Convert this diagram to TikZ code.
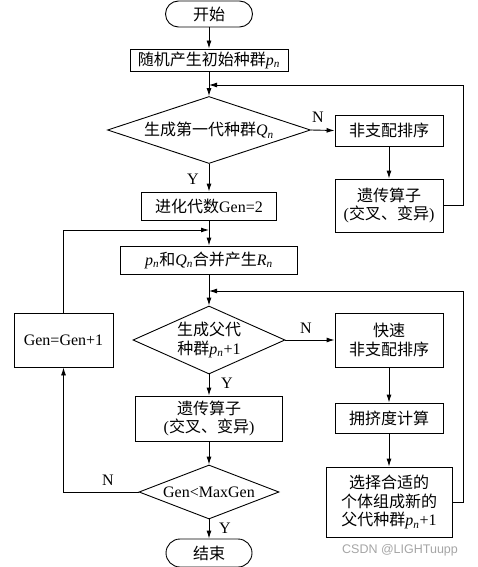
\documentclass[tikz,border=0pt]{standalone}
\usepackage{fontspec}
\setmainfont{Liberation Serif}
\newfontfamily\cjk{Noto Sans CJK SC}
\newfontfamily\wmfont{Liberation Sans}
\usetikzlibrary{shapes.geometric,arrows.meta}
\newcommand\sbn[1]{{\itshape #1}\textsubscript{\itshape n}}
\definecolor{wmgray}{RGB}{165,165,165}
\tikzset{
  base/.style={draw, line width=0.9pt, inner sep=0pt, align=center,
    font=\fontsize{16}{18.5}\selectfont},
  box/.style={base, rectangle},
  term/.style={base, rectangle, rounded corners=13pt},
  dec/.style={base, diamond},
  conn/.style={line width=0.9pt, -{Latex[length=8pt,width=5pt]}},
  plain/.style={line width=0.9pt},
  yn/.style={font=\fontsize{16}{18}\selectfont, inner sep=0pt}
}
\begin{document}
\begin{tikzpicture}[x=1pt,y=-1pt]
\useasboundingbox (0,0) rectangle (478,567);
% main column
\node[term, minimum width=87, minimum height=26] (start) at (209,14) {{\cjk 开始}};
\node[box, minimum width=158, minimum height=22] (init) at (209,60) {{\cjk 随机产生初始种群}\sbn{p}};
\node[dec, minimum width=203, minimum height=67,
  label={[yn]center:{\cjk 生成第一代种群}\sbn{Q}}] (d1) at (209,130) {};
\node[box, minimum width=135, minimum height=28] (genset) at (209,206) {{\cjk 进化代数}Gen=2};
\node[box, minimum width=177, minimum height=28] (merge) at (209,260) {\sbn{p}{\cjk 和}\sbn{Q}{\cjk 合并产生}\sbn{R}};
\node[dec, minimum width=152, minimum height=68,
  label={[yn, align=center, font=\fontsize{16}{18.5}\selectfont]center:{\cjk 生成父代}\\{\cjk 种群}\sbn{p}+1}] (d2) at (209,340) {};
\node[box, minimum width=147, minimum height=45] (gen2) at (209,418.5) {{\cjk 遗传算子}\\({\cjk 交叉、变异})};
\node[dec, minimum width=140, minimum height=54,
  label={[yn]center:Gen<MaxGen}] (d3) at (209,492) {};
\node[term, minimum width=86, minimum height=28, rounded corners=14pt] (stop) at (209,553) {{\cjk 结束}};
% left
\node[box, minimum width=99, minimum height=54] (inc) at (63.5,340) {Gen=Gen+1};
% right column
\node[box, minimum width=108, minimum height=31] (sort1) at (389,130.5) {{\cjk 非支配排序}};
\node[box, minimum width=108, minimum height=53] (gen1) at (389,205.5) {{\cjk 遗传算子}\\({\cjk 交叉、变异})};
\node[box, minimum width=108, minimum height=54] (fast) at (389,340) {{\cjk 快速}\\{\cjk 非支配排序}};
\node[box, minimum width=108, minimum height=30] (crowd) at (389,418) {{\cjk 拥挤度计算}};
\node[box, minimum width=126, minimum height=70] (sel) at (389,502) {{\cjk 选择合适的}\\{\cjk 个体组成新的}\\{\cjk 父代种群}\sbn{p}+1};
% coordinates
\coordinate (j1) at (209,85);
\coordinate (r1) at (463,205.5);
\coordinate (r1t) at (463,85);
\coordinate (j2) at (209,230);
\coordinate (l2) at (63.5,230);
\coordinate (j3) at (209,291);
\coordinate (r3) at (463,502);
\coordinate (r3t) at (463,291);
\coordinate (l3) at (63.5,492);
% connectors
\draw[conn] (start) -- (init);
\draw[conn] (init) -- (d1);
\draw[conn] (d1.east) -- (sort1.west);
\draw[conn] (sort1) -- (gen1);
\draw[conn] (gen1.east) -- (r1) -- (r1t) -- (j1);
\draw[conn] (d1.south) -- (genset);
\draw[conn] (genset) -- (merge);
\draw[conn] (inc.north) -- (l2) -- (j2);
\draw[conn] (merge) -- (d2.north);
\draw[conn] (d2.east) -- (fast.west);
\draw[conn] (fast) -- (crowd);
\draw[conn] (crowd) -- (sel);
\draw[conn] (sel.east) -- (r3) -- (r3t) -- (j3);
\draw[conn] (d2.south) -- (gen2);
\draw[conn] (gen2) -- (d3.north);
\draw[conn] (d3.west) -- (l3) -- (inc.south);
\draw[conn] (d3.south) -- (stop);
% labels
\node[yn] (n1) at (318,117) {N};
\node[yn] (y1) at (193,179) {Y};
\node[yn] (n2) at (306,328) {N};
\node[yn] (y2) at (227,383) {Y};
\node[yn] (n3) at (108,480) {N};
\node[yn] (y3) at (225,528) {Y};
\node[font=\wmfont\fontsize{12.5}{14}\selectfont, text=wmgray, inner sep=0pt] (wm) at (400,550) {CSDN @LIGHTuupp};
\end{tikzpicture}
\end{document}
